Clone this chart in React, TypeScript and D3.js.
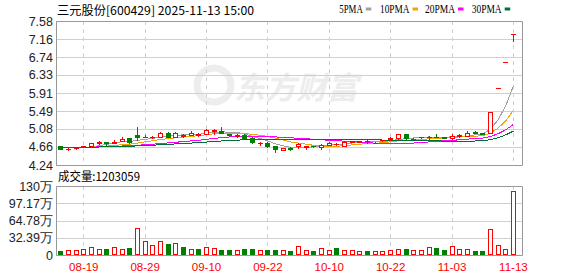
import React from 'react';
import * as d3 from 'd3';

const title = '三元股份[600429] 2025-11-13 15:00';
const volumeTitle = '成交量:1203059';

const dates = [
  '08-14','08-15','08-18','08-19','08-20','08-21','08-22','08-25','08-26','08-27','08-28','08-29',
  '09-01','09-02','09-03','09-04','09-05','09-08','09-09','09-10','09-11','09-12','09-15','09-16','09-17','09-18','09-19','09-22','09-23','09-24','09-25','09-26','09-29','09-30',
  '10-09','10-10','10-13','10-14','10-15','10-16','10-17','10-20','10-21','10-22','10-23','10-24','10-27','10-28','10-29','10-30','10-31',
  '11-03','11-04','11-05','11-06','11-07','11-10','11-11','11-12','11-13',
];

const opens = [
  4.67, 4.60, 4.63, 4.67, 4.67, 4.76, 4.77, 4.76, 4.80, 4.86,
  4.94, 4.88, 4.88, 4.90, 4.99, 4.90, 4.92, 4.94, 4.93, 4.97,
  5.02, 5.04, 4.95, 4.92, 4.94, 4.87, 4.74, 4.76, 4.68, 4.59,
  4.64, 4.67, 4.66, 4.68, 4.65, 4.71, 4.72, 4.69, 4.78, 4.78,
  4.80, 4.76, 4.81, 4.85, 4.87, 4.96, 4.84, 4.88, 4.90, 4.90,
  4.89, 4.86, 4.92, 4.92, 5.00, 4.98, 4.99, 6.02, 6.62, 7.28,
];
const highs = [
  4.68, 4.63, 4.65, 4.69, 4.76, 4.80, 4.78, 4.83, 4.89, 4.87,
  5.11, 4.93, 4.92, 5.00, 5.01, 5.01, 4.96, 5.02, 4.98, 5.07,
  5.07, 5.11, 4.97, 4.95, 4.96, 4.88, 4.78, 4.77, 4.69, 4.64,
  4.65, 4.76, 4.68, 4.69, 4.72, 4.77, 4.76, 4.80, 4.80, 4.80,
  4.83, 4.77, 4.83, 4.88, 4.96, 4.97, 4.86, 4.90, 4.91, 4.96,
  4.90, 4.96, 4.95, 5.02, 5.02, 4.99, 5.47, 6.02, 6.62, 7.28,
];
const lows = [
  4.61, 4.58, 4.62, 4.66, 4.66, 4.72, 4.71, 4.76, 4.80, 4.76,
  4.83, 4.88, 4.87, 4.89, 4.89, 4.89, 4.89, 4.93, 4.92, 4.96,
  4.97, 4.98, 4.92, 4.90, 4.85, 4.74, 4.71, 4.66, 4.53, 4.58,
  4.58, 4.63, 4.61, 4.66, 4.61, 4.70, 4.70, 4.68, 4.77, 4.77,
  4.76, 4.74, 4.80, 4.83, 4.85, 4.85, 4.83, 4.87, 4.84, 4.89,
  4.86, 4.85, 4.90, 4.91, 4.98, 4.95, 4.98, 6.02, 6.62, 7.12,
];
const closes = [
  4.62, 4.61, 4.64, 4.68, 4.75, 4.77, 4.76, 4.78, 4.85, 4.78,
  4.88, 4.89, 4.89, 4.99, 4.90, 4.98, 4.93, 4.98, 4.96, 5.05,
  5.06, 4.99, 4.94, 4.94, 4.86, 4.77, 4.75, 4.67, 4.60, 4.63,
  4.60, 4.73, 4.67, 4.67, 4.71, 4.76, 4.73, 4.77, 4.79, 4.79,
  4.79, 4.75, 4.82, 4.86, 4.95, 4.86, 4.85, 4.89, 4.90, 4.89,
  4.87, 4.92, 4.93, 4.98, 4.99, 4.97, 5.47, 6.02, 6.62, 7.28,
];
// closes of the 29 sessions before the first visible one (used by the moving averages)
const priorCloses = [
  4.66, 4.65, 4.67, 4.66, 4.64, 4.65, 4.66, 4.67, 4.66, 4.65,
  4.64, 4.65, 4.66, 4.65, 4.64, 4.66, 4.67, 4.65, 4.64, 4.65,
  4.66, 4.65, 4.64, 4.65, 4.66, 4.65, 4.64, 4.65, 4.66,
];

const volumes = [
  80000, 93000, 93000, 118000, 143000, 118000, 118000, 149000, 118000, 137000,
  510000, 267000, 193000, 267000, 212000, 224000, 156000, 118000, 118000, 149000,
  131000, 99000, 99000, 99000, 112000, 112000, 99000, 99000, 99000, 99000,
  80000, 168000, 99000, 80000, 131000, 99000, 136000, 99000, 99000, 80000,
  80000, 80000, 80000, 99000, 118000, 118000, 99000, 99000, 149000, 136000,
  99000, 168000, 118000, 118000, 80000, 68000, 486000, 187000, 118000, 1203059,
];
// 1 = volume drawn red (rise), 0 = green (fall)
const volumeUp = [
  0, 1, 1, 1, 1, 1, 0, 1, 1, 0,
  1, 1, 1, 1, 0, 1, 0, 1, 0, 1,
  1, 0, 0, 1, 0, 0, 1, 0, 0, 1,
  0, 1, 1, 0, 1, 1, 0, 1, 1, 1,
  0, 1, 1, 1, 1, 0, 1, 1, 1, 0,
  0, 1, 1, 1, 0, 0, 1, 1, 1, 1,
];

const priceTicks = [4.24, 4.66, 5.08, 5.49, 5.91, 6.33, 6.74, 7.16, 7.58];
const volumeTicks = [0, 323900, 647800, 971700, 1295600];
const volumeTickLabels = ['0', '32.39万', '64.78万', '97.17万', '130万'];
const xTickLabels = ['08-19', '08-29', '09-10', '09-22', '10-10', '10-22', '11-03', '11-13'];
const maPeriods = [5, 10, 20, 30];
const maNames = ['5PMA', '10PMA', '20PMA', '30PMA'];
const maColors = ['#a0a0a0', '#f5a300', '#ff00ff', '#00703a'];

const RED = '#ff0000';
const GREEN = '#008000';
const GRID = '#d0d0d0';
const BORDER = '#999999';

const L = 56, R = 522, T = 21, B = 165;
const VT = 186, VB = 255;

export default function App() {
  const x = d3.scaleLinear().domain([0, dates.length - 1]).range([60.3, 512.9]);
  const y = d3.scaleLinear().domain([priceTicks[0], priceTicks[priceTicks.length - 1]]).range([B, T]);
  const yv = d3.scaleLinear().domain([0, volumeTicks[volumeTicks.length - 1]]).range([VB, VT]);

  const allCloses = [...priorCloses, ...closes];
  const off = priorCloses.length;
  const maData = maPeriods.map((p) =>
    closes.map((_, i) => d3.mean(allCloses.slice(off + i - p + 1, off + i + 1)) as number)
  );
  const line = d3.line<number>().x((_, i) => x(i) + 0.5).y((d) => y(d));

  const tickIdx = xTickLabels.map((l) => dates.indexOf(l));
  const px = (v: number) => Math.round(v) + 0.5;

  const legendStarts = [339.3, 380, 425, 471.7];
  const legendWidths = [23.5, 29.5, 30, 30];

  return (
    <div style={{ position: 'fixed', left: 0, top: 0 }}>
      <svg width={578} height={276} style={{ display: 'block', background: '#fff' }}>
        <rect width={578} height={276} fill="#fff" />
        {/* watermark */}
        <g>
          <circle cx={214} cy={85} r={17} fill="none" stroke="#ededed" strokeWidth={7} />
          <text x={234} y={99} fontFamily="Noto Sans CJK SC" fontWeight="bold" fontSize={31} fill="#ededed" fontStyle="italic">东方财富</text>
        </g>

        {/* header */}
        <text x={57} y={15} fontFamily="Noto Sans CJK SC" fontSize={12} fill="#000" textLength={197} lengthAdjust="spacingAndGlyphs">{title}</text>
        {maNames.map((n, k) => (
          <g key={n}>
            <text x={legendStarts[k]} y={13} fontFamily="Liberation Serif" fontSize={12} fill="#000" textLength={legendWidths[k]} lengthAdjust="spacingAndGlyphs">{n}</text>
            <rect x={legendStarts[k] + legendWidths[k] + 3} y={7.5} width={5.5} height={3} fill={maColors[k]} />
          </g>
        ))}

        {/* price grid */}
        {priceTicks.map((t) => (
          <g key={t}>
            <line x1={L} x2={R} y1={px(y(t))} y2={px(y(t))} stroke={GRID} />
            <text x={53} y={y(t) + 4.5} textAnchor="end" fontFamily="Liberation Sans" fontSize={12.5} fill="#222">{t.toFixed(2)}</text>
          </g>
        ))}
        {tickIdx.map((i) => (
          <g key={'v' + i}>
            <line x1={px(x(i))} x2={px(x(i))} y1={T} y2={B} stroke={GRID} strokeDasharray="4,4" />
            <line x1={px(x(i))} x2={px(x(i))} y1={VT} y2={VB} stroke={GRID} strokeDasharray="4,4" />
            <text x={x(i) + 0.5} y={271} textAnchor="middle" fontFamily="Liberation Sans" fontSize={11.5} fill={RED}>{dates[i]}</text>
          </g>
        ))}

        {/* moving averages */}
        {maData.map((d, k) => (
          <path key={'ma' + k} d={line(d) as string} fill="none" stroke={maColors[k]} strokeWidth={1} shapeRendering="crispEdges" />
        ))}

        {/* candles */}
        {closes.map((c, i) => {
          const cx = Math.round(x(i));
          const o = opens[i];
          const up = c >= o;
          const yO = Math.round(y(o));
          const yC = Math.round(y(c));
          const yH = Math.round(y(highs[i]));
          const yLo = Math.round(y(lows[i]));
          const color = c > o ? RED : c < o ? GREEN : (i > 0 && c < closes[i - 1] ? GREEN : RED);
          const top = Math.min(yO, yC);
          const bot = Math.max(yO, yC);
          return (
            <g key={'c' + i} shapeRendering="crispEdges">
              <line x1={cx + 0.5} x2={cx + 0.5} y1={yH} y2={yLo + 1} stroke={color} />
              {bot - top < 1 ? (
                <line x1={cx - 2} x2={cx + 3} y1={top + 0.5} y2={top + 0.5} stroke={color} />
              ) : up ? (
                <rect x={cx - 1.5} y={top + 0.5} width={4} height={bot - top} fill="#fff" stroke={color} />
              ) : (
                <rect x={cx - 2} y={top} width={5} height={bot - top + 1} fill={color} />
              )}
            </g>
          );
        })}

        {/* price frame */}
        <path d={`M${L + 0.5},${T + 0.5}H${R + 0.5}V${B + 0.5}H${L + 0.5}Z`} fill="none" stroke={BORDER} />

        {/* volume */}
        <text x={58} y={181} fontFamily="Noto Sans CJK SC" fontSize={12} fill="#000" textLength={82} lengthAdjust="spacingAndGlyphs">{volumeTitle}</text>
        {volumeTicks.map((t, k) => (
          <g key={'vt' + k}>
            {k > 0 && k < volumeTicks.length - 1 && (
              <line x1={L} x2={R} y1={px(yv(t))} y2={px(yv(t))} stroke={GRID} />
            )}
            <text x={53} y={yv(t) + 4.5} textAnchor="end" fontFamily="Liberation Sans" fontSize={12.5} fill="#222">{volumeTickLabels[k]}</text>
          </g>
        ))}
        {volumes.map((v, i) => {
          const cx = Math.round(x(i));
          const top = Math.round(yv(v));
          return volumeUp[i] ? (
            <rect key={'vb' + i} x={cx - 1.5} y={top + 0.5} width={4} height={VB - top - 1} fill="#fff" stroke={RED} shapeRendering="crispEdges" />
          ) : (
            <rect key={'vb' + i} x={cx - 2} y={top} width={5} height={VB - top} fill={GREEN} shapeRendering="crispEdges" />
          );
        })}
        <path d={`M${L + 0.5},${VT + 0.5}H${R + 0.5}V${VB + 0.5}H${L + 0.5}Z`} fill="none" stroke={BORDER} />
      </svg>
    </div>
  );
}
